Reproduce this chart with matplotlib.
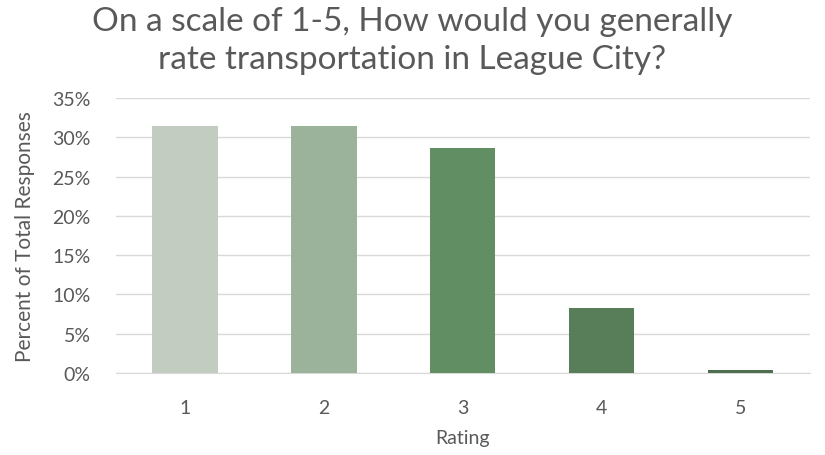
import matplotlib
matplotlib.use("Agg")
import matplotlib.pyplot as plt
from matplotlib.ticker import PercentFormatter

categories = ["1", "2", "3", "4", "5"]
values = [31.4, 31.4, 28.6, 8.2, 0.4]
colors = ["#C2CCC0", "#9BB39B", "#618F63", "#577E59", "#4D6F4F"]
yticks = [0, 5, 10, 15, 20, 25, 30, 35]

plt.rcParams['font.family'] = ['Lato', 'DejaVu Sans']
txt = "#595959"

fig = plt.figure(figsize=(8.25, 4.56), dpi=100)
ax = fig.add_axes([0.14, 0.180, 0.842, 0.603])
x = range(len(categories))
ax.bar(x, values, width=0.47, color=colors, zorder=3)
ax.set_xlim(-0.5, len(categories) - 0.5)
ax.set_ylim(0, 35)
ax.set_yticks(yticks)
ax.yaxis.set_major_formatter(PercentFormatter(decimals=0))
ax.set_xticks(list(x))
ax.set_xticklabels(categories)
ax.grid(axis='y', color="#D9D9D9", linewidth=1, zorder=0)
for s in ["top", "right", "left"]:
    ax.spines[s].set_visible(False)
ax.spines["bottom"].set_color("#D9D9D9")
ax.tick_params(axis='both', length=0, labelsize=14, colors=txt)
ax.tick_params(axis='x', pad=19)
ax.tick_params(axis='y', pad=18)
ax.set_xlabel("Rating", fontsize=14, color=txt, labelpad=9)
ax.set_ylabel("Percent of Total Responses", fontsize=15, color=txt, labelpad=12)
fig.suptitle("On a scale of 1-5, How would you generally\nrate transportation in League City?",
             fontsize=24, color=txt, y=0.985, linespacing=1.35)
fig.savefig("out.png", dpi=100)
